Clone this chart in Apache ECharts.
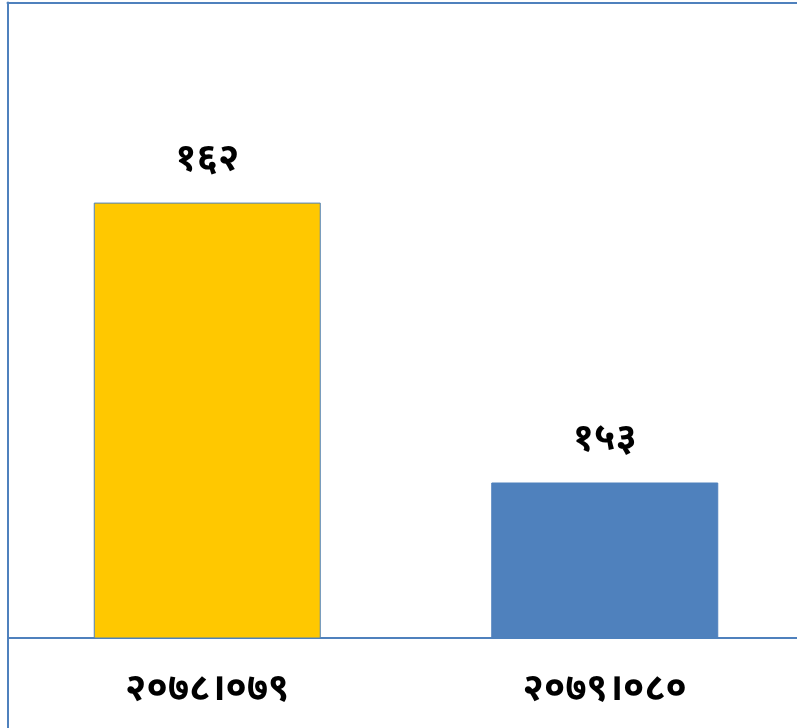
<!DOCTYPE html>
<html>
<head>
<meta charset="utf-8">
<script src="https://cdn.jsdelivr.net/npm/echarts@6/dist/echarts.min.js"></script>
<style>html,body{margin:0;padding:0;background:#fff}#c{width:797px;height:728px}</style>
</head>
<body>
<div id="c"></div>
<script>
const categories = ['२०७८।०७९', '२०७९।०८०'];
const values = [162, 153];
const barColors = ['#FFC800', '#4F81BD'];
const yMin = 148;
const yMax = 168;

const devDigits = '०१२३४५६७८९';
function toDev(n) { return String(n).replace(/[0-9]/g, d => devDigits[+d]); }

const FONT = '"Noto Sans", "Noto Sans Devanagari", sans-serif';
const LINE = '#4F81BD';
const chart = echarts.init(document.getElementById('c'), null, {renderer: 'canvas'});
chart.setOption({
  backgroundColor: '#fff',
  animation: false,
  grid: [
    {left: 8.5, width: 795, top: 16, height: 622, containLabel: false, outerBoundsMode: 'none'},
    {left: 7.5, right: 0, top: 2.5, bottom: 0, containLabel: false, outerBoundsMode: 'none'}
  ],
  xAxis: [
    {type: 'category', gridIndex: 0, data: categories,
     axisLine: {show: true, lineStyle: {color: LINE, width: 2}},
     axisTick: {show: false},
     axisLabel: {margin: 32, fontSize: 38, fontWeight: 'bold', color: '#000', fontFamily: FONT}},
    {type: 'value', gridIndex: 1, position: 'top', min: 0, max: 1,
     axisLine: {show: true, onZero: false, lineStyle: {color: LINE, width: 2}},
     axisTick: {show: false}, axisLabel: {show: false}, splitLine: {show: false}}
  ],
  yAxis: [
    {type: 'value', gridIndex: 0, min: yMin, max: yMax, show: false, splitLine: {show: false}},
    {type: 'value', gridIndex: 1, position: 'left', min: 0, max: 1,
     axisLine: {show: true, onZero: false, lineStyle: {color: LINE, width: 2}},
     axisTick: {show: false}, axisLabel: {show: false}, splitLine: {show: false}}
  ],
  series: [{
    type: 'bar',
    xAxisIndex: 0, yAxisIndex: 0,
    barWidth: 227,
    data: values.map((v, i) => ({value: v, itemStyle: {color: barColors[i], borderColor: LINE, borderWidth: 1}})),
    label: {show: true, position: 'top', distance: 24, fontSize: 38, fontWeight: 'bold', color: '#000',
            fontFamily: FONT,
            formatter: p => toDev(p.value)}
  }]
});
</script>
</body>
</html>
